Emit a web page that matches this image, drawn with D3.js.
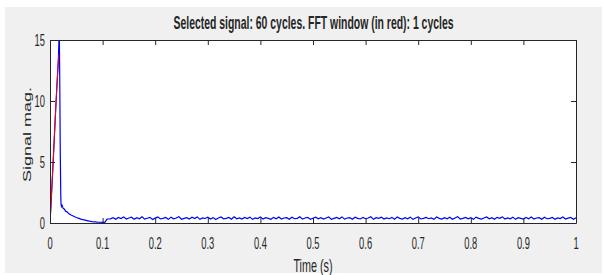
<!DOCTYPE html>
<html><head><meta charset="utf-8">
<script src="https://cdn.jsdelivr.net/npm/d3@7"></script>
<style>html,body{margin:0;padding:0;background:#fff;}svg{display:block;}</style>
</head><body>
<svg id="c" width="604" height="275"></svg>
<script>
const titleText = "Selected signal: 60 cycles. FFT window (in red): 1 cycles";
const xLabel = "Time (s)";
const yLabel = "Signal mag.";
const xTicks = [0,0.1,0.2,0.3,0.4,0.5,0.6,0.7,0.8,0.9,1];
const yTicks = [0,5,10,15];

// FFT window (red): first cycle
const redT = [0,0.002,0.004,0.006,0.008,0.010,0.012,0.014,0.0158,0.0167];
const redV = [0,1.6,3.3,5.0,6.8,8.6,10.3,11.9,13.3,13.8];

// blue signal: transient part
const blueT1 = [0,0.002,0.004,0.006,0.008,0.010,0.012,0.014,0.0158,0.0167,0.0175,0.0185,0.0195,0.0205,0.021,0.022,0.023,0.025,0.027,0.030,0.033,0.036,0.040,0.045,0.050,0.055,0.060,0.065,0.070,0.075,0.080,0.085,0.090,0.095,0.100,0.104,0.106,0.108,0.110];
const blueV1 = [0,1.6,3.3,5.0,6.8,8.6,10.3,11.9,13.3,14.5,16.5,12.0,6.0,2.2,1.5,1.35,1.45,1.2,1.15,0.95,0.9,0.75,0.65,0.55,0.45,0.38,0.3,0.25,0.2,0.15,0.12,0.1,0.07,0.06,0.05,0.05,0.15,0.3,0.33];
// blue signal: steady part from 0.115 to 1.0 step 0.005
const blueSteady = [
0.34,0.44,0.31,0.45,0.36,0.50,0.33,0.41,0.47,0.30,
0.43,0.35,0.51,0.32,0.39,0.46,0.29,0.40,0.49,0.33,
0.38,0.45,0.30,0.48,0.35,0.41,0.52,0.31,0.38,0.44,
0.33,0.47,0.36,0.50,0.30,0.42,0.37,0.48,0.32,0.44,
0.29,0.41,0.49,0.34,0.38,0.46,0.31,0.51,0.35,0.42,
0.32,0.45,0.37,0.48,0.30,0.41,0.36,0.50,0.33,0.44,
0.38,0.30,0.46,0.35,0.49,0.32,0.41,0.44,0.30,0.47,
0.35,0.38,0.51,0.32,0.41,0.46,0.30,0.39,0.48,0.34,
0.44,0.32,0.41,0.49,0.30,0.38,0.46,0.35,0.50,0.32,
0.41,0.44,0.30,0.47,0.38,0.33,0.46,0.35,0.41,0.51,
0.30,0.44,0.38,0.48,0.32,0.41,0.35,0.46,0.30,0.49,
0.38,0.32,0.44,0.35,0.48,0.30,0.41,0.50,0.33,0.38,
0.46,0.35,0.41,0.30,0.49,0.38,0.32,0.44,0.35,0.47,
0.30,0.41,0.52,0.33,0.38,0.46,0.35,0.44,0.30,0.48,
0.38,0.32,0.41,0.49,0.35,0.44,0.30,0.46,0.38,0.50,
0.33,0.41,0.35,0.48,0.30,0.44,0.38,0.32,0.46,0.35,
0.49,0.33,0.41,0.44,0.30,0.47,0.35,0.38,0.45,0.31,
0.42,0.36,0.49,0.33,0.40,0.45,0.30,0.43
];
const steadyStart = 0.115, steadyStep = 0.005;

const svg = d3.select("#c");
svg.append("rect").attr("x",5).attr("y",7).attr("width",597).attr("height",266).attr("fill","#f0f0f0");

const m = {l:50, r:576, t:40, b:223};
const x = d3.scaleLinear().domain([0,1]).range([m.l,m.r]);
const y = d3.scaleLinear().domain([0,15]).range([m.b,m.t]);

svg.append("rect").attr("x",m.l).attr("y",m.t).attr("width",m.r-m.l).attr("height",m.b-m.t).attr("fill","#fff");

svg.append("clipPath").attr("id","pc").append("rect")
  .attr("x",m.l).attr("y",m.t).attr("width",m.r-m.l).attr("height",m.b-m.t);

const blue = blueT1.map((t,i)=>[t,blueV1[i]]).concat(blueSteady.map((v,i)=>[steadyStart+i*steadyStep, v]));
const red = redT.map((t,i)=>[t,redV[i]]);
const line = d3.line().x(d=>x(d[0])).y(d=>y(d[1]));

const g = svg.append("g").attr("clip-path","url(#pc)");
g.append("path").attr("d",line(blue)).attr("fill","none").attr("stroke","#0000ff").attr("stroke-width",1.2);
g.append("path").attr("d",line(red)).attr("fill","none").attr("stroke","#ff0000").attr("stroke-width",1);

// axes (ticks inward, box)
const ax = "#262626";
const axB = d3.axisBottom(x).tickValues(xTicks).tickSizeInner(-5).tickSizeOuter(0).tickFormat(()=> "");
const axT = d3.axisTop(x).tickValues(xTicks).tickSizeInner(-5).tickSizeOuter(0).tickFormat(()=> "");
const axL = d3.axisLeft(y).tickValues(yTicks).tickSizeInner(-5).tickSizeOuter(0).tickFormat(()=> "");
const axR = d3.axisRight(y).tickValues(yTicks).tickSizeInner(-5).tickSizeOuter(0).tickFormat(()=> "");
[[axB,`translate(0,${m.b})`],[axT,`translate(0,${m.t})`],[axL,`translate(${m.l},0)`],[axR,`translate(${m.r},0)`]].forEach(([a,tr])=>{
  const gg = svg.append("g").attr("transform",tr).call(a);
  gg.selectAll("path,line").attr("stroke",ax).attr("stroke-width",1);
  gg.selectAll("text").remove();
});

const font = "Arial, 'Liberation Sans', Helvetica, sans-serif";
function txt(str, px, py, size, sx, anchor, weight) {
  const t = svg.append("text")
    .attr("transform", `translate(${px},${py}) scale(${sx},1)`)
    .attr("text-anchor", anchor).attr("font-family", font).attr("font-size", size)
    .attr("fill", "#262626").text(str);
  if (weight) t.attr("font-weight", weight);
  return t;
}
const fmt = d3.format("~g");
xTicks.forEach(v => txt(fmt(v), x(v), 249, 17, 0.55, "middle"));
yTicks.forEach(v => txt(fmt(v), m.l - 5, y(v) + 6, 17, 0.55, "end"));
txt(titleText, (m.l+m.r)/2 + 0.5, 29, 18, 0.58, "middle", "bold");
txt(xLabel, (m.l+m.r)/2, 272, 18, 0.6, "middle");
svg.append("text")
  .attr("transform", `translate(31,${(m.t+m.b)/2 + 3}) scale(0.65,1) rotate(-90)`)
  .attr("text-anchor","middle").attr("font-family",font).attr("font-size",18)
  .attr("fill","#262626").text(yLabel);
</script>
</body></html>
